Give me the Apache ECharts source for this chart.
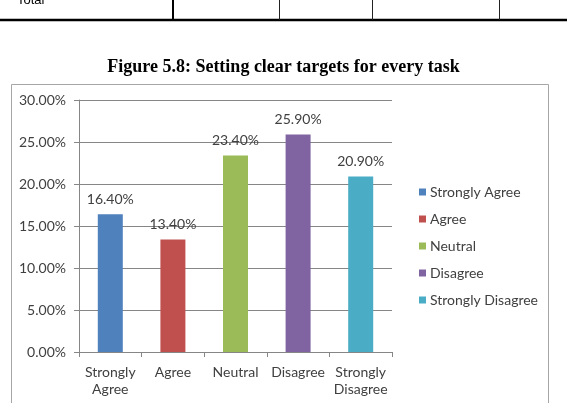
<!DOCTYPE html>
<html><head><meta charset="utf-8">
<script src="https://cdn.jsdelivr.net/npm/echarts@6/dist/echarts.min.js"></script>
<style>html,body{margin:0;padding:0;background:#fff}#c{width:567px;height:403px}</style>
</head><body><div id="c"></div>
<script>
const categories = ['Strongly\nAgree', 'Agree', 'Neutral', 'Disagree', 'Strongly\nDisagree'];
const seriesNames = ['Strongly Agree', 'Agree', 'Neutral', 'Disagree', 'Strongly Disagree'];
const values = [16.4, 13.4, 23.4, 25.9, 20.9];
const colors = ['#4F81BD', '#C0504D', '#9BBB59', '#8064A2', '#4BACC6'];
const yTicks = [0, 5, 10, 15, 20, 25, 30];
const titleText = 'Figure 5.8: Setting clear targets for every task';

const font = 'Lato';
const fs = 14;
const chart = echarts.init(document.getElementById('c'), null, {renderer: 'canvas'});
const series = seriesNames.map((n, i) => ({
  name: n, type: 'bar', stack: 'all', barWidth: 25,
  itemStyle: {color: colors[i]},
  data: values.map((v, j) => j === i ? v : '-'),
  label: {show: true, position: 'top', distance: 8, color: '#404040', fontFamily: font, fontSize: fs,
    formatter: p => p.value.toFixed(2) + '%'}
}));
chart.setOption({
  animation: false,
  title: {text: titleText, left: 'center', top: 53,
    textStyle: {fontFamily: 'Liberation Serif', fontWeight: 'bold', fontSize: 18, color: '#000'}},
  grid: {left: 79, right: 175, top: 100, bottom: 51},
  legend: {orient: 'vertical', left: 414, top: 180, itemWidth: 7, itemHeight: 7, itemGap: 13,
    icon: 'rect', data: seriesNames,
    textStyle: {fontFamily: font, fontSize: fs, color: '#404040', padding: [0, 0, 0, -1]}},
  xAxis: {type: 'category', data: categories,
    axisLine: {lineStyle: {color: '#868686'}},
    axisTick: {show: true, length: 5, lineStyle: {color: '#868686'}},
    axisLabel: {interval: 0, fontFamily: font, fontSize: fs, color: '#404040', lineHeight: 17, margin: 12}},
  yAxis: {type: 'value', min: yTicks[0], max: yTicks[yTicks.length - 1], interval: 5,
    axisLine: {show: true, lineStyle: {color: '#868686'}},
    axisTick: {show: true, length: 5, lineStyle: {color: '#868686'}},
    splitLine: {lineStyle: {color: '#868686'}},
    axisLabel: {fontFamily: font, fontSize: fs, color: '#404040', margin: 13,
      formatter: v => v.toFixed(2) + '%'}},
  series: series,
  graphic: [
    {type: 'rect', shape: {x: 11.5, y: 84.5, width: 537, height: 330}, style: {fill: 'none', stroke: '#a6a6a6', lineWidth: 1}, z: -1},
    {type: 'line', shape: {x1: 0, y1: 20, x2: 567, y2: 20}, style: {stroke: '#000', lineWidth: 2.5}},
    {type: 'line', shape: {x1: 173, y1: 0, x2: 173, y2: 20}, style: {stroke: '#000', lineWidth: 2}},
    {type: 'line', shape: {x1: 279.5, y1: 0, x2: 279.5, y2: 20}, style: {stroke: '#222', lineWidth: 1}},
    {type: 'line', shape: {x1: 372.5, y1: 0, x2: 372.5, y2: 20}, style: {stroke: '#222', lineWidth: 1}},
    {type: 'line', shape: {x1: 499.5, y1: 0, x2: 499.5, y2: 20}, style: {stroke: '#222', lineWidth: 1}},
    {type: 'text', x: 17, y: 7, style: {text: 'Total', fontFamily: 'Liberation Sans', fontSize: 13, fill: '#000', verticalAlign: 'bottom'}}
  ]
});
</script></body></html>
